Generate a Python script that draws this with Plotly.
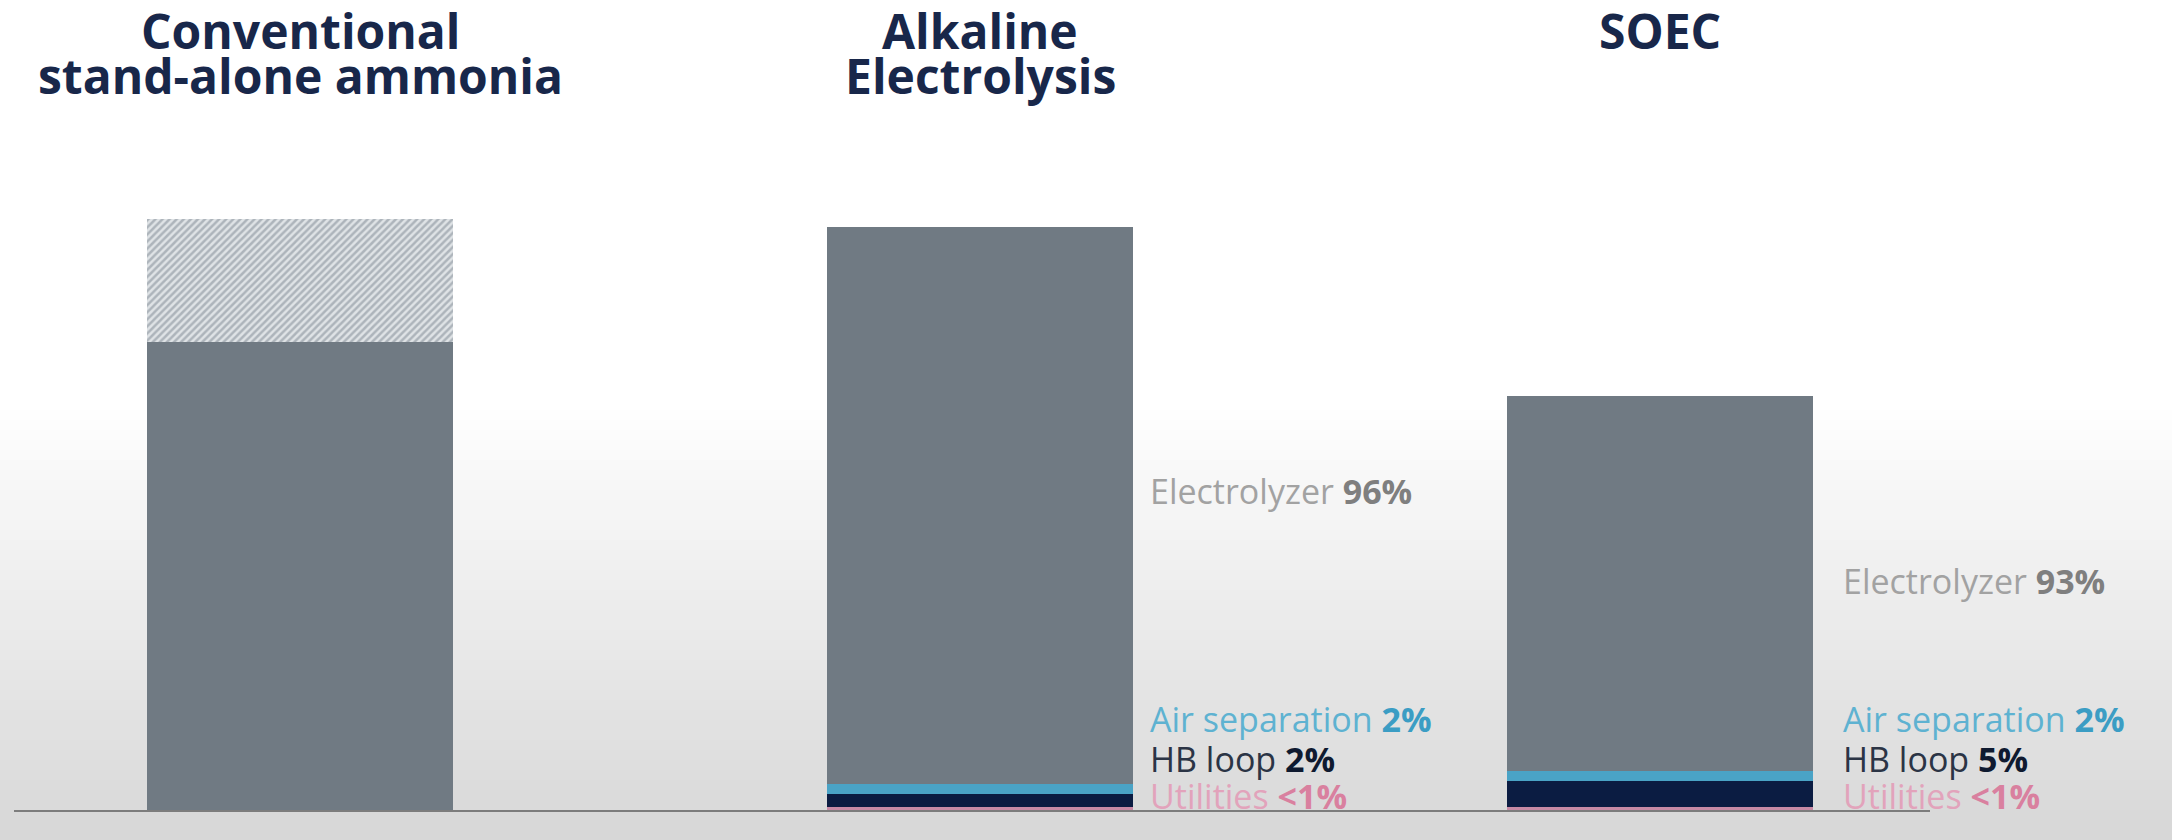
import plotly.graph_objects as go

# ---------------- data ----------------
categories = ["Conventional", "Alkaline", "SOEC"]
title_lines = [["Conventional", "stand-alone ammonia"], ["Alkaline", "Electrolysis"], ["SOEC"]]

conventional_base = [28.5, None, None]
conventional_range = [7.5, None, None]
utilities = [None, 0.2, 0.2]
hb_loop = [None, 0.75, 1.55]
air_separation = [None, 0.65, 0.6]
electrolyzer = [None, 33.9, 22.85]

share_labels = {
    "Alkaline": {"Electrolyzer": "96%", "Air separation": "2%", "HB loop": "2%", "Utilities": "<1%"},
    "SOEC": {"Electrolyzer": "93%", "Air separation": "2%", "HB loop": "5%", "Utilities": "<1%"},
}

# ---------------- styles ----------------
FONT = "Open Sans"
GRAY = "#707a83"
LIGHTBLUE = "#4aa3c6"
NAVY = "#0b1c42"
PINK = "#c78aa6"
TITLE_COLOR = "#18274a"
BAR_W = 0.449

fig = go.Figure()
bar_common = dict(x=categories, width=BAR_W, marker_line_width=0, hoverinfo="skip", showlegend=False)
fig.add_trace(go.Bar(y=utilities, name="Utilities", marker_color=PINK, **bar_common))
fig.add_trace(go.Bar(y=hb_loop, name="HB loop", marker_color=NAVY, **bar_common))
fig.add_trace(go.Bar(y=air_separation, name="Air separation", marker_color=LIGHTBLUE, **bar_common))
fig.add_trace(go.Bar(y=electrolyzer, name="Electrolyzer", marker_color=GRAY, **bar_common))
fig.add_trace(go.Bar(y=conventional_base, name="Conventional", marker_color=GRAY, **bar_common))
fig.add_trace(go.Bar(y=conventional_range, name="Conventional range",
                     marker=dict(color="#dfe3e6",
                                 pattern=dict(shape="/", fgcolor="#7c868f", bgcolor="#dfe3e6",
                                              size=5, solidity=0.5)),
                     **bar_common))

# background gradient (white -> light gray)
H_PLOT = 810.0
n_bands = 44
y_top_px, y_bot_px = 400.0, 840.0
for i in range(n_bands):
    p0 = y_top_px + (y_bot_px - y_top_px) * i / n_bands
    p1 = y_top_px + (y_bot_px - y_top_px) * (i + 1) / n_bands
    t = (i + 0.5) / n_bands
    g = int(round(255 - 40 * t))
    fig.add_shape(type="rect", xref="paper", yref="paper", x0=0, x1=1,
                  y0=(H_PLOT - p1) / H_PLOT, y1=(H_PLOT - p0) / H_PLOT,
                  fillcolor=f"rgb({g},{g},{g})", line_width=0, layer="below")

annotations = []
# titles
line_y_px = [30.5, 75.5]
for cat, lines in zip(categories, title_lines):
    for j, line in enumerate(lines):
        annotations.append(dict(x=cat, xref="x", y=(H_PLOT - line_y_px[j]) / H_PLOT, yref="paper",
                                text=f"<b>{line}</b>", showarrow=False, xanchor="center", yanchor="middle",
                                font=dict(family=FONT, size=48, color=TITLE_COLOR)))

# segment labels
label_font = 34
label_shift = {"Alkaline": 168, "SOEC": 181}
electro_shift = {"Alkaline": 14, "SOEC": 3}
styles = {
    "Electrolyzer": ("#a2a2a2", "#7f7f7f"),
    "Air separation": ("#5eb2d1", "#3b9dc4"),
    "HB loop": ("#2b3445", "#0f1a30"),
    "Utilities": ("#e2a3bb", "#d9809f"),
}
row_shift = {"Air separation": 91, "HB loop": 51, "Utilities": 14}
for k, cat in enumerate(categories):
    if cat not in share_labels:
        continue
    for name, pct in share_labels[cat].items():
        c_reg, c_bold = styles[name]
        txt = f"<span style='color:{c_reg}'>{name}</span> <b><span style='color:{c_bold}'>{pct}</span></b>"
        if name == "Electrolyzer":
            bottom = (utilities[k] or 0) + (hb_loop[k] or 0) + (air_separation[k] or 0)
            yv = bottom + electrolyzer[k] / 2
            ys = electro_shift[cat]
        else:
            yv = 0
            ys = row_shift[name]
        annotations.append(dict(x=cat, xref="x", y=yv, yref="y", xshift=label_shift[cat], yshift=ys,
                                text=txt, showarrow=False, xanchor="left", yanchor="middle",
                                font=dict(family=FONT, size=label_font)))

W = 2172
x0_px, x1_px = 14, 1930
px_per_cat = 680.0
r0 = -(300 - x0_px) / px_per_cat
r1 = r0 + (x1_px - x0_px) / px_per_cat

fig.update_layout(
    width=W, height=840,
    margin=dict(l=0, r=0, t=0, b=30, pad=0),
    paper_bgcolor="white", plot_bgcolor="rgba(0,0,0,0)",
    barmode="stack", bargap=0,
    showlegend=False,
    annotations=annotations,
    xaxis=dict(domain=[x0_px / W, x1_px / W], range=[r0, r1], showticklabels=False, ticks="",
               showgrid=False, zeroline=False, showline=True, linecolor="#7d7d7d", linewidth=2,
               fixedrange=True),
    yaxis=dict(range=[0, H_PLOT / 16.42], visible=False, showgrid=False, zeroline=False, fixedrange=True),
    font=dict(family=FONT),
)

fig.write_html("out.html", config={"displayModeBar": False})
